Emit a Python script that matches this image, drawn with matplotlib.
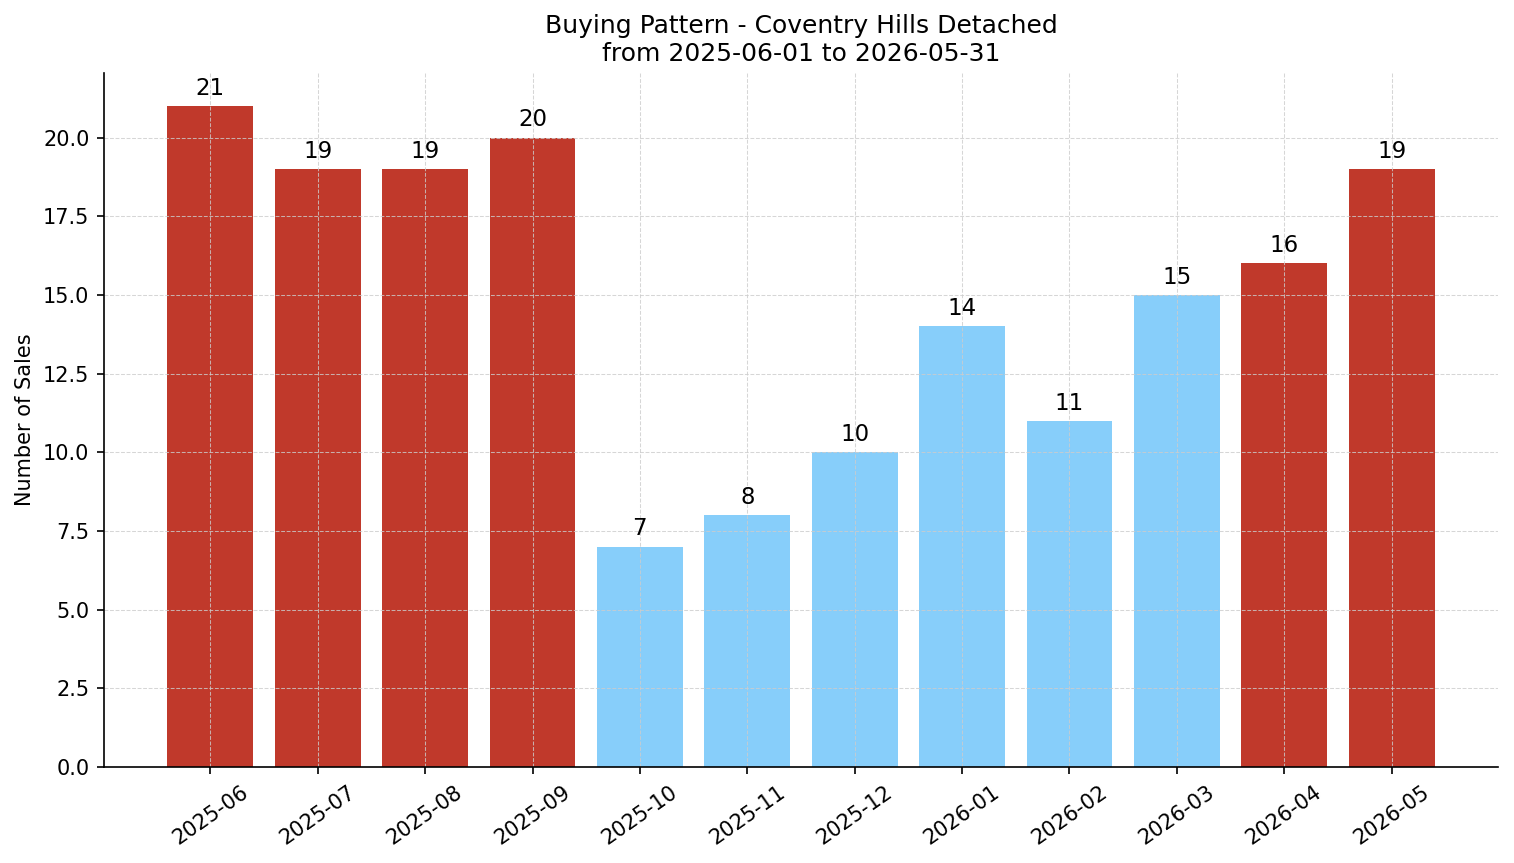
import matplotlib
matplotlib.use("Agg")
import matplotlib.pyplot as plt

# monthly sales counts
months = ["2025-06", "2025-07", "2025-08", "2025-09", "2025-10", "2025-11",
          "2025-12", "2026-01", "2026-02", "2026-03", "2026-04", "2026-05"]
sales = [21, 19, 19, 20, 7, 8, 10, 14, 11, 15, 16, 19]
is_hot = [True, True, True, True, False, False, False, False, False, False, True, True]

HOT = "#c0392b"
COLD = "#87cefa"

fig = plt.figure(figsize=(1514 / 150, 863 / 150), dpi=150)
ax = fig.add_axes([0.0687, 0.1112, 0.9207, 0.8042])

x = list(range(len(months)))
colors = [HOT if h else COLD for h in is_hot]
bars = ax.bar(x, sales, color=colors, width=0.8)

for b, v in zip(bars, sales):
    ax.annotate(str(v), (b.get_x() + b.get_width() / 2, v),
                xytext=(0, 3), textcoords="offset points",
                ha="center", va="bottom", fontsize=11)

ax.set_ylim(0, max(sales) * 1.05)
ax.set_xticks(x)
ax.set_xticklabels(months, rotation=35, fontsize=10)
ax.tick_params(axis="y", labelsize=10)
ax.set_ylabel("Number of Sales", fontsize=10)
ax.set_title("Buying Pattern - Coventry Hills Detached\nfrom 2025-06-01 to 2026-05-31",
             fontsize=12)
ax.grid(True, linestyle="--", color="#cccccc", alpha=0.8, linewidth=0.5)
ax.spines["top"].set_visible(False)
ax.spines["right"].set_visible(False)

fig.savefig("out.png", dpi=150)
plt.close(fig)
